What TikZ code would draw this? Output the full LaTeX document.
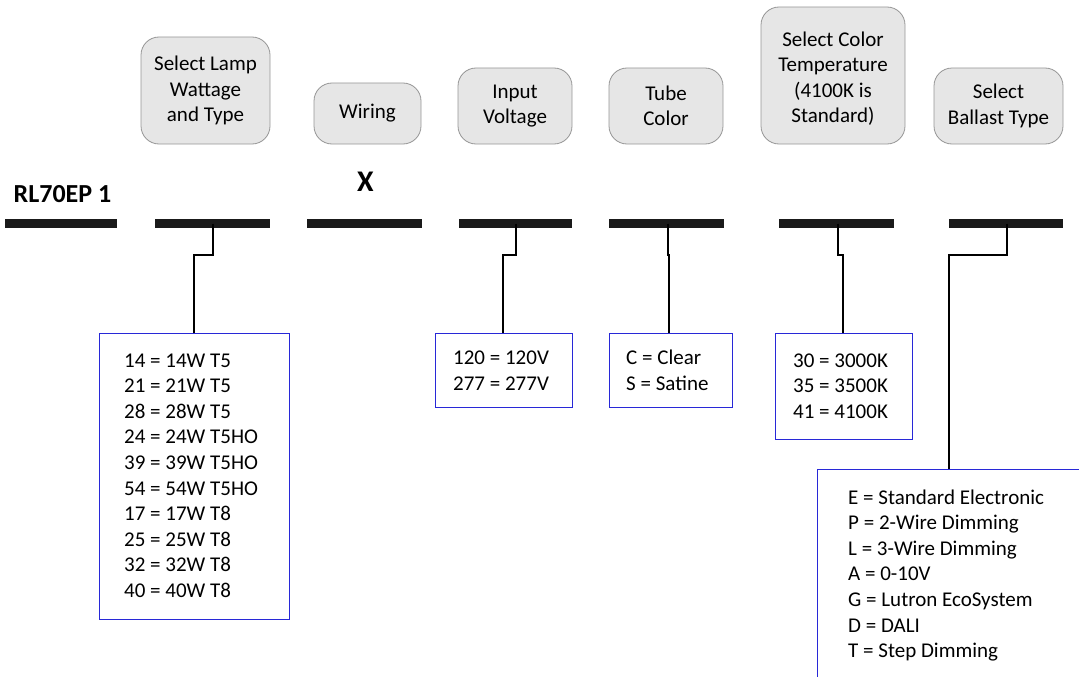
\documentclass[tikz,border=0pt]{standalone}
\usepackage{fontspec}
\setmainfont{Carlito}
\definecolor{labfill}{RGB}{230,230,230}
\definecolor{labgray}{RGB}{150,150,150}
\definecolor{listblue}{RGB}{40,40,215}
\definecolor{barblack}{RGB}{26,26,26}
\begin{document}
\begin{tikzpicture}[x=1pt,y=-1pt,
  lab/.style={draw=labgray, fill=labfill, rounded corners=18pt, line width=0.8pt, align=center,
    font=\fontsize{21}{25.5}\selectfont, inner sep=0pt},
  bar/.style={fill=barblack, draw=none, inner sep=0pt, minimum height=9pt},
  listbox/.style={draw=listblue, line width=1pt, inner sep=0pt},
  item/.style={anchor=base west, inner sep=0pt, font=\fontsize{21}{25.5}\selectfont},
  wire/.style={line width=1.6pt, black}
]
\useasboundingbox (0,0) rectangle (1079,677);
\clip (0,0) rectangle (1079,677);

% label boxes
\node[lab, minimum width=129pt, minimum height=107pt] (t1) at (205.5,90.5) {Select Lamp\\Wattage\\and Type};
\node[lab, minimum width=107pt, minimum height=61pt] (t2) at (367.5,113.5) {Wiring};
\node[lab, minimum width=114pt, minimum height=76pt] (t3) at (515,106) {Input\\Voltage};
\node[lab, minimum width=114pt, minimum height=76pt] (t4) at (666,106) {Tube\\Color};
\node[lab, minimum width=144pt, minimum height=137pt] (t5) at (833,75.5) {};
\node[align=center, inner sep=0pt, font=\fontsize{21}{25.5}\selectfont] (t5t) at ([yshift=-3pt]t5.center) {Select Color\\Temperature\\(4100K is\\Standard)};
\node[lab, minimum width=129pt, minimum height=76pt] (t6) at (998.5,106) {Select\\Ballast Type};

% code text
\node[anchor=base west, inner sep=0pt, font=\fontsize{26}{30}\selectfont\bfseries] (code) at (13.5,202) {RL70EP 1};
\node[anchor=base, inner sep=0pt, font=\fontsize{30}{34}\selectfont\bfseries] (xw) at (365.5,191) {X};

% bars
\node[bar, minimum width=112pt] (b1) at (61,223.5) {};
\node[bar, minimum width=115pt] (b2) at (212.5,223.5) {};
\node[bar, minimum width=115pt] (b3) at (364.5,223.5) {};
\node[bar, minimum width=113pt] (b4) at (515.5,223.5) {};
\node[bar, minimum width=115pt] (b5) at (666.5,223.5) {};
\node[bar, minimum width=115pt] (b6) at (836.5,223.5) {};
\node[bar, minimum width=114pt] (b7) at (1006,223.5) {};

% list boxes
\node[listbox, minimum width=190pt, minimum height=286pt] (l1) at (194,476) {};
\node[listbox, minimum width=137pt, minimum height=74pt] (l2) at (503.5,370) {};
\node[listbox, minimum width=123pt, minimum height=74pt] (l3) at (670.5,370) {};
\node[listbox, minimum width=137pt, minimum height=106pt] (l4) at (843.5,386) {};
\node[listbox, anchor=north west, minimum width=300pt, minimum height=260pt] (l5) at (817,469) {};
\coordinate (l5in) at ([xshift=132pt]l5.north west);

% list texts
\foreach \t [count=\i from 0] in {14 = 14W T5, 21 = 21W T5, 28 = 28W T5, 24 = 24W T5HO, 39 = 39W T5HO,
  54 = 54W T5HO, 17 = 17W T8, 25 = 25W T8, 32 = 32W T8, 40 = 40W T8}
  \node[item] (a\i) at (124,367.3+25.55*\i) {\t};
\foreach \t [count=\i from 0] in {120 = 120V, 277 = 277V}
  \node[item] (v\i) at (453,364+26*\i) {\t};
\foreach \t [count=\i from 0] in {C = Clear, S = Satine}
  \node[item] (c\i) at (626,364+26*\i) {\t};
\foreach \t [count=\i from 0] in {30 = 3000K, 35 = 3500K, 41 = 4100K}
  \node[item] (k\i) at (793,367+25.5*\i) {\t};
\foreach \t [count=\i from 0] in {E = Standard Electronic, P = 2-Wire Dimming, L = 3-Wire Dimming,
  A = 0-10V, G = Lutron EcoSystem, D = DALI, T = Step Dimming}
  \node[item] (e\i) at (848,504+25.6*\i) {\t};

% connectors
\draw[wire] ([xshift=0.5pt]b2.center) -- ++(0,31.5) -| (l1.north);
\draw[wire] ([xshift=0.5pt]b4.center) -- ++(0,31.5) -| ([xshift=-0.5pt]l2.north);
\draw[wire] ([xshift=1.5pt]b5.center) -- ++(0,31.5) -| ([xshift=-1.5pt]l3.north);
\draw[wire] ([xshift=1.5pt]b6.center) -- ++(0,31.5) -| ([xshift=-0.5pt]l4.north);
\draw[wire] ([xshift=1pt]b7.center) -- ++(0,31.5) -| (l5in);
\end{tikzpicture}
\end{document}
